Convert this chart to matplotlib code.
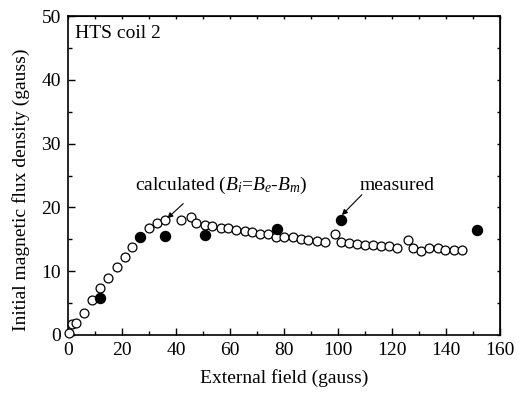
import matplotlib.pyplot as plt
import numpy as np

plt.rcParams['font.family'] = ['Liberation Serif', 'DejaVu Serif']
plt.rcParams['mathtext.fontset'] = 'custom'
plt.rcParams['mathtext.rm'] = 'Liberation Serif'
plt.rcParams['mathtext.it'] = 'Liberation Serif:italic'

# Calculated initial flux density (B_i = B_e - B_m)
calc_field = [0.5, 1.4, 3.0, 6.1, 9.0, 11.9, 15.0, 18.1, 21.0, 23.9, 26.8, 29.9,
              33.0, 36.0, 41.7, 45.6, 47.5, 50.6, 53.5, 56.6, 59.4, 62.4, 65.5,
              68.3, 71.2, 74.2, 77.0, 80.1, 83.2, 86.1, 89.0, 92.3, 95.3, 98.7,
              101.0, 103.9, 107.0, 109.9, 113.0, 115.8, 118.8, 121.9, 126.0,
              127.9, 130.7, 133.7, 136.8, 139.7, 142.8, 145.9]
calc_flux = [0.3, 1.7, 1.9, 3.4, 5.5, 7.3, 9.0, 10.7, 12.3, 13.8, 15.4, 16.7,
             17.5, 18.0, 18.0, 18.5, 17.5, 17.2, 17.1, 16.8, 16.7, 16.5, 16.3,
             16.2, 15.8, 15.8, 15.3, 15.4, 15.4, 15.0, 14.9, 14.8, 14.6, 15.8,
             14.6, 14.5, 14.3, 14.1, 14.1, 14.0, 14.0, 13.7, 14.9,
             13.6, 13.1, 13.6, 13.6, 13.4, 13.3, 13.3]

# Measured initial flux density
meas_field = [11.9, 26.8, 35.8, 50.6, 77.4, 101.0, 151.4]
meas_flux = [5.75, 15.3, 15.5, 15.7, 16.6, 18.0, 16.5]

fig = plt.figure(figsize=(5.26, 3.95), dpi=100)
ax = fig.add_axes([0.129, 0.152, 0.822, 0.807])

ax.plot(calc_field, calc_flux, 'o', ms=6.4, mfc='white', mec='black', mew=0.9,
        clip_on=False, zorder=3)
ax.plot(meas_field, meas_flux, 'o', ms=7.2, mfc='black', mec='black',
        clip_on=False, zorder=4)

xmajor = np.arange(0, 161, 20)
xminor = np.arange(0, 161, 10)
ymajor = np.arange(0, 51, 10)
yminor = np.arange(0, 51, 5)

ax.set_xlim(0, 160)
ax.set_ylim(0, 50)
ax.set_xticks(xmajor)
ax.set_xticks(xminor, minor=True)
ax.set_yticks(ymajor)
ax.set_yticks(yminor, minor=True)
ax.tick_params(which='both', direction='in', labelsize=14)
ax.tick_params(axis='x', pad=5)
ax.tick_params(axis='y', pad=5)
ax.tick_params(which='major', length=5, width=1)
ax.tick_params(which='minor', length=3, width=1)
for s in ax.spines.values():
    s.set_linewidth(1.2)

# short ticks on the top and right frame
top = ax.secondary_xaxis('top')
top.set_xticks(xminor)
top.tick_params(direction='in', length=2, width=1, labeltop=False)
right = ax.secondary_yaxis('right')
right.set_yticks(yminor)
right.tick_params(direction='in', length=2, width=1, labelright=False)

ax.set_xlabel('External field (gauss)', fontsize=14, labelpad=7)
ax.set_ylabel('Initial magnetic flux density (gauss)', fontsize=14)
ax.yaxis.set_label_coords(-0.088, 0.455)

ax.text(0.017, 0.945, 'HTS coil 2', transform=ax.transAxes, fontsize=14,
        ha='left', va='center')

ax.text(24.8, 22.7, r'calculated ($B_i$=$B_e$-$B_m$)', fontsize=14,
        ha='left', va='baseline')
ax.text(107.8, 22.7, 'measured', fontsize=14, ha='left', va='baseline')

arrow = dict(arrowstyle='-|>', color='black', lw=0.8, mutation_scale=8,
             shrinkA=0, shrinkB=0)
ax.annotate('', xy=(36.8, 18.3), xytext=(42.7, 20.6), arrowprops=arrow)
ax.annotate('', xy=(101.4, 18.8), xytext=(108.8, 22.0), arrowprops=arrow)

fig.savefig('out.png', dpi=100)
